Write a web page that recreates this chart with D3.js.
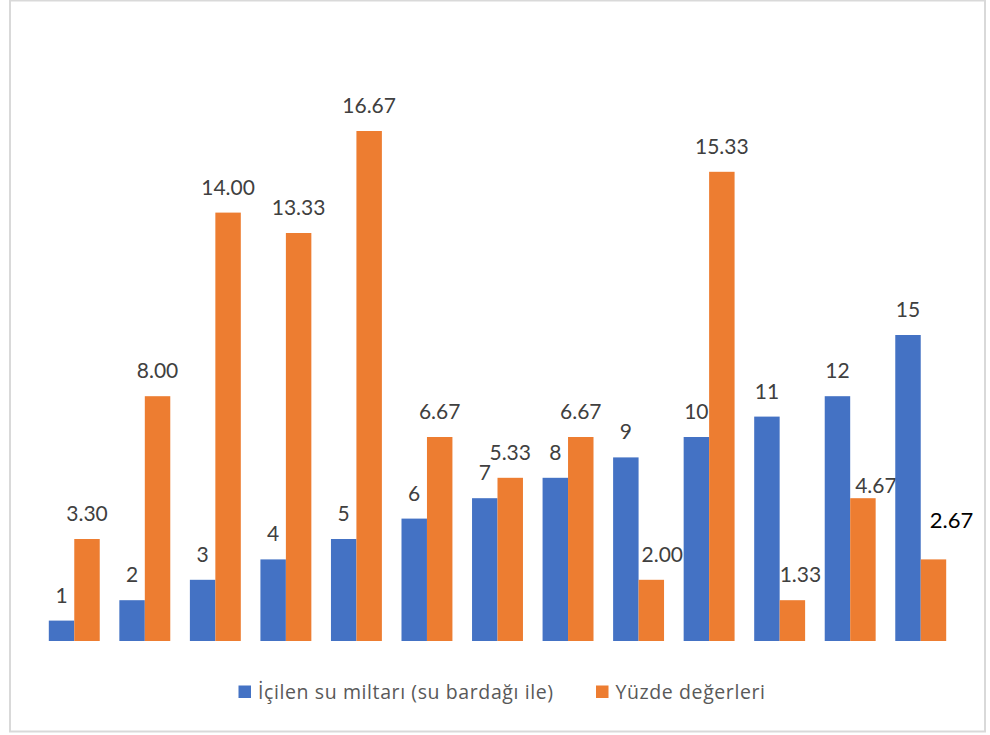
<!DOCTYPE html>
<html><head><meta charset="utf-8">
<script src="https://cdn.jsdelivr.net/npm/d3@7"></script>
<style>
html,body{margin:0;padding:0;background:#fff;}
svg{display:block;font-family:Lato,"Open Sans",sans-serif;}
</style></head>
<body><svg id="chart" width="990" height="735"></svg>
<script>
// data
const categories = ["1","2","3","4","5","6","7","8","9","10","11","12","13"];
const seriesNames = ["İçilen su miltarı (su bardağı ile)", "Yüzde değerleri"];
const waterValues = [1,2,3,4,5,6,7,8,9,10,11,12,15];
const waterLabels = ["1","2","3","4","5","6","7","8","9","10","11","12","15"];
const percentBarValues = [5,12,21,20,25,10,8,10,3,23,2,7,4];
const percentLabels = ["3.30","8.00","14.00","13.33","16.67","6.67","5.33","6.67","2.00","15.33","1.33","4.67","2.67"];
const yMax = 30;

// style
const colors = ["#4472C4", "#ED7D31"];
const labelNudge = {8:{dx:11,dy:0},10:{dx:8,dy:0},11:{dx:13,dy:13},12:{dx:18,dy:-13,size:22,color:"#000"}};

const svg = d3.select("#chart");
svg.append("rect").attr("x",10).attr("y",0.5).attr("width",975).attr("height",731)
  .attr("fill","#fff").attr("stroke","#d9d9d9").attr("stroke-width",2);

const x0 = d3.scaleBand().domain(categories).range([39,956]).paddingInner(0.278).paddingOuter(0.139);
const x1 = d3.scaleBand().domain([0,1]).range([0,x0.bandwidth()]);
const y = d3.scaleLinear().domain([0,yMax]).range([641,29]);

const rows = categories.map((c,i)=>({c,i,vals:[waterValues[i],percentBarValues[i]],labels:[waterLabels[i],percentLabels[i]]}));

const g = svg.append("g");
const groups = g.selectAll("g.grp").data(rows).join("g").attr("class","grp")
  .attr("transform",d=>`translate(${x0(d.c)},0)`);

groups.selectAll("rect").data(d=>d.vals.map((v,k)=>({v,k}))).join("rect")
  .attr("x",d=>x1(d.k)).attr("width",x1.bandwidth())
  .attr("y",d=>y(d.v)).attr("height",d=>y(0)-y(d.v))
  .attr("fill",d=>colors[d.k]);

groups.each(function(d){
  const grp = d3.select(this);
  d.vals.forEach((v,k)=>{
    const n = (k===1 && labelNudge[d.i]) ? labelNudge[d.i] : {dx:0,dy:0};
    grp.append("text")
      .attr("x", x1(k)+x1.bandwidth()/2 + n.dx)
      .attr("y", y(v) - 18 + n.dy)
      .attr("text-anchor","middle")
      .attr("font-size", (n.size||21)+"px")
      .attr("fill", n.color||"#404040")
      .text(d.labels[k]);
  });
});

// legend
const leg = svg.append("g");
const legX = [238.5, 596];
seriesNames.forEach((s,k)=>{
  leg.append("rect").attr("x",legX[k]).attr("y",685.5).attr("width",12.5).attr("height",12.5).attr("fill",colors[k]);
  leg.append("text").attr("x",legX[k]+19.5).attr("y",699)
    .attr("font-family","'Open Sans',sans-serif").attr("font-size","19.5px")
    .attr("letter-spacing","0.6px").attr("fill","#595959").text(s);
});
</script></body></html>
